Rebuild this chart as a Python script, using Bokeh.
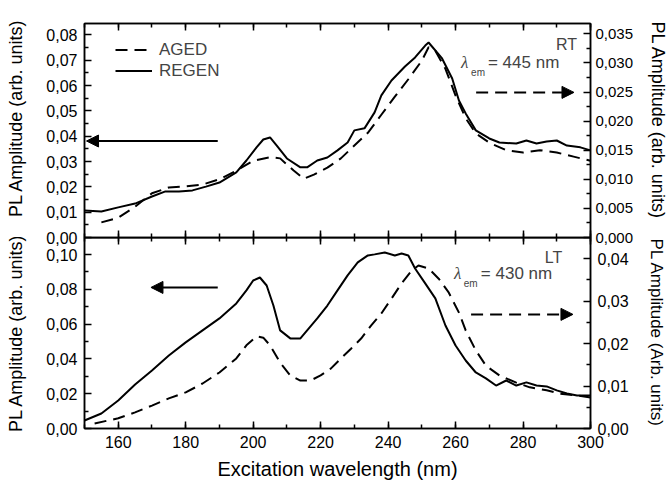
from bokeh.plotting import figure
from bokeh.models import (Range1d, LinearAxis, FixedTicker, CustomJSTickFormatter,
                          Legend, LegendItem, Arrow, NormalHead, Label)
from bokeh.layouts import column
from bokeh.embed import file_html
from bokeh.resources import INLINE

# ---------------- data ----------------
# Top panel (RT): REGEN on left axis, AGED on right axis
rt_regen_x = [150, 155, 160, 165, 170, 174, 178, 182, 186, 190, 195, 198, 201, 203, 205, 207,
              210, 214, 216, 219, 222, 225, 228, 230, 233, 236, 238, 241, 245, 248, 251, 252,
              256, 259, 261, 263, 266, 270, 273, 278, 281, 284, 287, 290, 293, 297, 300]
rt_regen_y = [0.0107, 0.0103, 0.0119, 0.0134, 0.0162, 0.0182, 0.0182, 0.0186, 0.0201, 0.0217,
              0.0257, 0.0304, 0.0356, 0.0387, 0.0395, 0.0363, 0.0312, 0.0277, 0.0277, 0.0304,
              0.0316, 0.0344, 0.0375, 0.0423, 0.0431, 0.0494, 0.0561, 0.0620, 0.0675, 0.0711,
              0.0758, 0.0770, 0.0707, 0.0628, 0.0541, 0.0490, 0.0423, 0.0391, 0.0375, 0.0371,
              0.0383, 0.0371, 0.0379, 0.0383, 0.0363, 0.0356, 0.0344]
rt_aged_x = [155, 160, 165, 170, 175, 180, 185, 190, 195, 200, 205, 208, 212, 215, 218, 222,
             226, 230, 234, 238, 242, 246, 250, 252, 254, 257, 260, 263, 266, 270, 275, 280,
             285, 290, 295, 300]
rt_aged_y = [0.0026, 0.0034, 0.0053, 0.0076, 0.0086, 0.0088, 0.0091, 0.0100, 0.0115, 0.0132,
             0.0138, 0.0136, 0.0115, 0.0101, 0.0108, 0.0120, 0.0136, 0.0158, 0.0180, 0.0211,
             0.0242, 0.0272, 0.0304, 0.0327, 0.0321, 0.0290, 0.0244, 0.0205, 0.0179, 0.0163,
             0.0150, 0.0146, 0.0150, 0.0146, 0.0139, 0.0132]

# Bottom panel (LT): REGEN on left axis, AGED on right axis
lt_regen_x = [150, 155, 160, 165, 170, 175, 180, 185, 190, 195, 198, 200, 202, 204, 206, 208,
              211, 214, 216, 219, 222, 225, 228, 231, 234, 236, 239, 242, 244, 246, 248, 251,
              254, 257, 260, 263, 266, 269, 272, 275, 278, 281, 284, 287, 290, 293, 296, 300]
lt_regen_y = [0.0046, 0.0086, 0.0161, 0.0253, 0.0334, 0.0420, 0.0495, 0.0564, 0.0633, 0.0719,
              0.0794, 0.0851, 0.0868, 0.0822, 0.0707, 0.0564, 0.0518, 0.0518, 0.0564, 0.0633,
              0.0707, 0.0794, 0.0880, 0.0955, 0.0995, 0.1001, 0.1012, 0.0995, 0.1006, 0.0995,
              0.0920, 0.0834, 0.0748, 0.0592, 0.0477, 0.0391, 0.0322, 0.0288, 0.0247, 0.0276,
              0.0247, 0.0265, 0.0247, 0.0242, 0.0219, 0.0201, 0.0190, 0.0190]
lt_aged_x = [153, 160, 165, 170, 175, 180, 185, 190, 195, 198, 201, 203, 205, 208, 211, 214,
             217, 220, 223, 226, 229, 232, 235, 238, 241, 244, 247, 249, 252, 255, 258, 261,
             263, 266, 269, 273, 278, 282, 287, 291, 296, 300]
lt_aged_y = [0.0012, 0.0024, 0.0038, 0.0054, 0.0071, 0.0085, 0.0106, 0.0132, 0.0165, 0.0196,
             0.0217, 0.0214, 0.0196, 0.0155, 0.0125, 0.0113, 0.0113, 0.0125, 0.0141, 0.0165,
             0.0188, 0.0212, 0.0243, 0.0271, 0.0306, 0.0342, 0.0372, 0.0384, 0.0377, 0.0353,
             0.0320, 0.0273, 0.0231, 0.0184, 0.0148, 0.0125, 0.0108, 0.0097, 0.0090, 0.0082,
             0.0078, 0.0073]

x_ticks = [160, 180, 200, 220, 240, 260, 280, 300]
x_minor = [150, 160, 170, 180, 190, 200, 210, 220, 230, 240, 250, 260, 270, 280, 290, 300]
rt_left_ticks = [0.0, 0.01, 0.02, 0.03, 0.04, 0.05, 0.06, 0.07, 0.08]
rt_left_minor = [0.005, 0.015, 0.025, 0.035, 0.045, 0.055, 0.065, 0.075]
rt_right_ticks = [0.0, 0.005, 0.01, 0.015, 0.02, 0.025, 0.03, 0.035]
rt_right_minor = [0.0025, 0.0075, 0.0125, 0.0175, 0.0225, 0.0275, 0.0325]
lt_left_ticks = [0.0, 0.02, 0.04, 0.06, 0.08, 0.10]
lt_left_minor = [0.01, 0.03, 0.05, 0.07, 0.09]
lt_right_ticks = [0.0, 0.01, 0.02, 0.03, 0.04]
lt_right_minor = [0.005, 0.015, 0.025, 0.035]

FONT = "Liberation Sans"
DASH = "12 7"
NB = "\u00a0"


def style_axis(ax, tick_size="16px", show=True):
    ax.axis_line_color = "black"
    ax.axis_line_width = 1.5
    ax.major_tick_line_color = "black"
    ax.major_tick_line_width = 1.5
    ax.minor_tick_line_color = "black"
    ax.minor_tick_line_width = 1.5
    ax.major_tick_in = 7
    ax.major_tick_out = 0
    ax.minor_tick_in = 4
    ax.minor_tick_out = 0
    ax.major_label_text_font = FONT
    ax.major_label_text_color = "black"
    ax.axis_label_text_font = FONT
    ax.axis_label_text_font_style = "normal"
    ax.axis_label_text_color = "black"
    if show:
        ax.major_label_text_font_size = tick_size
    else:
        ax.major_label_text_font_size = "0px"
        ax.major_label_standoff = 0
        ax.formatter = CustomJSTickFormatter(code="return '';")


def y_axis(ticks, minor, digits, range_name=None, label=None, tick_size="16px",
           standoff=7, label_standoff=10, label_size="18px"):
    kw = {}
    if range_name:
        kw["y_range_name"] = range_name
    ax = LinearAxis(ticker=FixedTicker(ticks=ticks, minor_ticks=minor), **kw)
    style_axis(ax, tick_size)
    ax.formatter = CustomJSTickFormatter(
        code="return tick.toFixed(%d).replace('.', ',');" % digits)
    ax.major_label_standoff = standoff
    ax.axis_label = label
    ax.axis_label_standoff = label_standoff
    ax.axis_label_text_font_size = label_size
    return ax


def x_axis(show):
    ax = LinearAxis(ticker=FixedTicker(ticks=x_ticks, minor_ticks=x_minor))
    style_axis(ax, "16px", show)
    if show:
        ax.formatter = CustomJSTickFormatter(code="return tick.toFixed(0);")
        ax.major_label_standoff = 7
    return ax


W = 671
LB, RB = 84, 81
OV = 20  # overlap of the two figures (keeps boundary texts unclipped)

# ---------------- top panel ----------------
p1 = figure(width=W, height=23 + 214 + OV, x_range=Range1d(150, 300),
            y_range=Range1d(0, 0.0845),
            x_axis_location=None, y_axis_location=None,
            min_border_left=LB, min_border_right=RB, min_border_top=23, min_border_bottom=OV,
            output_backend="svg", toolbar_location=None)
p1.border_fill_alpha = 0
p1.background_fill_alpha = 0
p1.extra_y_ranges = {"r": Range1d(0, 0.0845 * 0.4353)}
p1.grid.visible = False
p1.outline_line_color = "black"
p1.outline_line_width = 1.5

p1.add_layout(y_axis(rt_left_ticks, rt_left_minor, 2,
                     label=NB * 5 + "PL Amplitude (arb. units)",
                     label_standoff=17), "left")
p1.add_layout(y_axis(rt_right_ticks, rt_right_minor, 3, range_name="r",
                     label="PL Amplitude (arb. units)" + NB * 4, tick_size="15px", standoff=5,
                     label_standoff=12), "right")
p1.add_layout(x_axis(False), "below")
p1.add_layout(x_axis(False), "above")

r_regen1 = p1.line(rt_regen_x, rt_regen_y, line_color="black", line_width=2)
r_aged1 = p1.line(rt_aged_x, rt_aged_y, line_color="black", line_width=2,
                  line_dash=DASH, y_range_name="r")

legend = Legend(items=[LegendItem(label="AGED", renderers=[r_aged1]),
                       LegendItem(label="REGEN", renderers=[r_regen1])],
                location=(31, 156), orientation="vertical",
                glyph_width=37, glyph_height=21, label_height=21, label_standoff=7,
                spacing=0, padding=0, margin=0,
                label_text_font=FONT, label_text_font_size="17px",
                border_line_alpha=0, background_fill_alpha=0)
p1.add_layout(legend, "center")

p1.add_layout(Arrow(end=NormalHead(size=12, fill_color="black", line_color="black"),
                    x_start=189.5, y_start=0.0381, x_end=150.6, y_end=0.0381,
                    line_width=2, line_color="black"))
p1.add_layout(Arrow(end=NormalHead(size=12, fill_color="black", line_color="black"),
                    x_start=266.1, y_start=0.0573, x_end=295.1, y_end=0.0573,
                    line_width=2, line_color="black", line_dash=DASH))

p1.add_layout(Label(x=296.0, y=0.0762, text="RT", text_align="right", text_baseline="middle",
                    text_font=FONT, text_font_size="16px"))
p1.add_layout(Label(x=261.6, y=0.0690, text="λ", text_align="left", text_baseline="middle",
                    text_font="Liberation Serif", text_font_style="italic",
                    text_font_size="17px"))
p1.add_layout(Label(x=264.6, y=0.0650, text="em", text_align="left", text_baseline="middle",
                    text_font=FONT, text_font_size="10px"))
p1.add_layout(Label(x=269.6, y=0.0690, text="= 445 nm", text_align="left",
                    text_baseline="middle", text_font=FONT, text_font_size="17px"))

# ---------------- bottom panel ----------------
p2 = figure(width=W, height=191 + 57, x_range=p1.x_range, y_range=Range1d(0, 0.1098),
            x_axis_location=None, y_axis_location=None,
            min_border_left=LB, min_border_right=RB, min_border_top=0, min_border_bottom=57,
            output_backend="svg", toolbar_location=None)
p2.margin = (-OV, 0, 0, 0)
p2.border_fill_alpha = 0
p2.background_fill_alpha = 0
p2.extra_y_ranges = {"r": Range1d(0, 0.045)}
p2.grid.visible = False
p2.outline_line_color = "black"
p2.outline_line_width = 1.5

p2.add_layout(y_axis(lt_left_ticks, lt_left_minor, 2, label="PL Amplitude (arb. units)",
                     label_standoff=17), "left")
p2.add_layout(y_axis(lt_right_ticks, lt_right_minor, 2, range_name="r",
                     label="PL Amplitude (Arb. units)", standoff=7,
                     label_standoff=15, label_size="17px"), "right")
xb = x_axis(True)
xb.axis_label = "Excitation wavelength (nm)"
xb.axis_label_text_font_size = "20px"
xb.axis_label_standoff = 7
p2.add_layout(xb, "below")
p2.add_layout(x_axis(False), "above")

p2.line(lt_regen_x, lt_regen_y, line_color="black", line_width=2)
p2.line(lt_aged_x, lt_aged_y, line_color="black", line_width=2, line_dash=DASH,
        y_range_name="r")

p2.add_layout(Arrow(end=NormalHead(size=12, fill_color="black", line_color="black"),
                    x_start=189.5, y_start=0.0811, x_end=169.7, y_end=0.0811,
                    line_width=2, line_color="black"))
p2.add_layout(Arrow(end=NormalHead(size=12, fill_color="black", line_color="black"),
                    x_start=264.6, y_start=0.0656, x_end=294.8, y_end=0.0656,
                    line_width=2, line_color="black", line_dash=DASH))

p2.add_layout(Label(x=291.6, y=0.0983, text="LT", text_align="right", text_baseline="middle",
                    text_font=FONT, text_font_size="16px"))
p2.add_layout(Label(x=259.5, y=0.0891, text="λ", text_align="left", text_baseline="middle",
                    text_font="Liberation Serif", text_font_style="italic",
                    text_font_size="17px"))
p2.add_layout(Label(x=262.4, y=0.0834, text="em", text_align="left", text_baseline="middle",
                    text_font=FONT, text_font_size="10px"))
p2.add_layout(Label(x=267.5, y=0.0891, text="= 430 nm", text_align="left",
                    text_baseline="middle", text_font=FONT, text_font_size="17px"))

layout = column(p1, p2, spacing=0)
open("out.html", "w").write(file_html(layout, INLINE))
